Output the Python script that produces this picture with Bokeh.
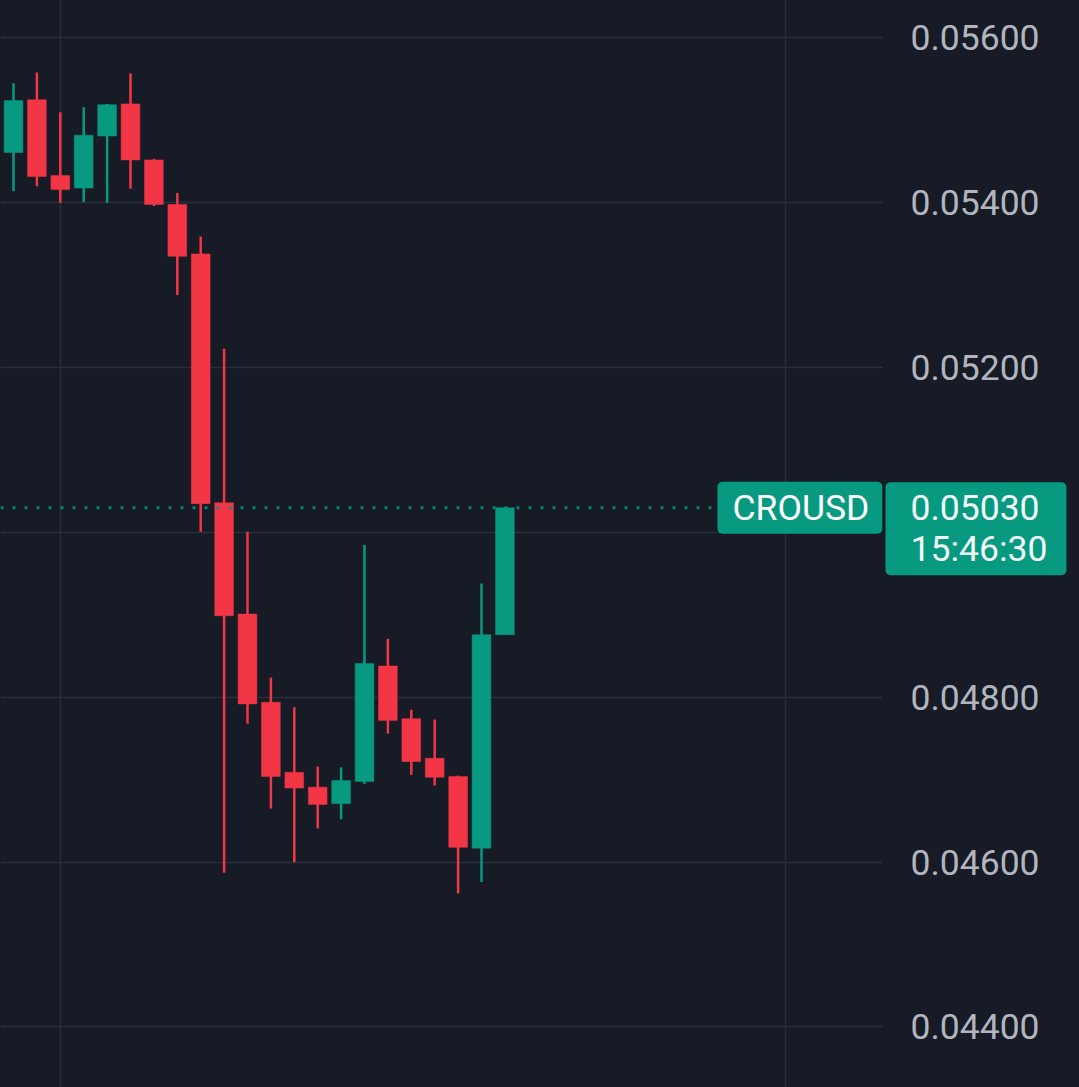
from bokeh.plotting import figure
from bokeh.models import (ColumnDataSource, Range1d, FixedTicker, Label,
                          PrintfTickFormatter)
from bokeh.embed import file_html
from bokeh.resources import INLINE

# ---- data (CROUSD candles) ----
opens  = [0.05461, 0.05525, 0.05433, 0.05418, 0.05481, 0.05520, 0.05452, 0.05398,
          0.05338, 0.05036, 0.04901, 0.04794, 0.04709, 0.04691, 0.04671, 0.04698,
          0.04838, 0.04774, 0.04726, 0.04704, 0.04617, 0.04876]
highs  = [0.05545, 0.05558, 0.05510, 0.05516, 0.05520, 0.05557, 0.05453, 0.05412,
          0.05359, 0.05223, 0.05001, 0.04824, 0.04788, 0.04716, 0.04715, 0.04985,
          0.04871, 0.04785, 0.04773, 0.04705, 0.04938, 0.05030]
lows   = [0.05414, 0.05420, 0.05400, 0.05401, 0.05400, 0.05417, 0.05396, 0.05288,
          0.05001, 0.04587, 0.04768, 0.04665, 0.04600, 0.04641, 0.04652, 0.04695,
          0.04756, 0.04706, 0.04693, 0.04562, 0.04576, 0.04876]
closes = [0.05524, 0.05432, 0.05416, 0.05482, 0.05519, 0.05452, 0.05398, 0.05335,
          0.05035, 0.04899, 0.04792, 0.04704, 0.04690, 0.04670, 0.04699, 0.04841,
          0.04772, 0.04722, 0.04703, 0.04618, 0.04876, 0.05030]
price_ticks = [0.044, 0.046, 0.048, 0.052, 0.054, 0.056]
grid_ticks = [0.044, 0.046, 0.048, 0.050, 0.052, 0.054, 0.056]
time_grid = [2, 33]
symbol = "CROUSD"
last_price = "0.05030"
countdown = "15:46:30"

BG = "#171b26"
GRID = "#2a2e39"
UP = "#089981"
DOWN = "#f23645"
TXT = "#b2b5be"
FONT = "Roboto"

X_START, X_END = -0.5556, 45.556   # visible bar-index window
AXIS_X = 37.137                    # bar index where the price scale begins

idx = list(range(len(opens)))
colors = [UP if c >= o else DOWN for o, c in zip(opens, closes)]
src = ColumnDataSource(dict(
    x=idx, open=opens, high=highs, low=lows, close=closes,
    top=[max(o, c) for o, c in zip(opens, closes)],
    bottom=[min(o, c) for o, c in zip(opens, closes)],
    color=colors,
))

p = figure(width=1079, height=1087, output_backend="svg", toolbar_location=None,
           x_axis_location=None, y_axis_location="right",
           x_range=Range1d(X_START, X_END), y_range=Range1d(0.0432658, 0.0564545),
           min_border_left=0, min_border_top=0, min_border_bottom=0,
           min_border_right=0)
p.background_fill_color = BG
p.border_fill_color = BG
p.outline_line_color = None

p.xgrid.ticker = FixedTicker(ticks=time_grid)
p.xgrid.grid_line_color = GRID
p.xgrid.grid_line_width = 1.5
p.ygrid.ticker = FixedTicker(ticks=grid_ticks)
p.ygrid.grid_line_color = GRID
p.ygrid.grid_line_width = 1.5
p.ygrid.cross_bounds = (X_START, AXIS_X)

ax = p.yaxis[0]
ax.fixed_location = AXIS_X
ax.ticker = FixedTicker(ticks=price_ticks)
ax.formatter = PrintfTickFormatter(format="%.5f")
ax.axis_line_color = None
ax.major_tick_line_color = None
ax.minor_tick_line_color = None
ax.major_tick_out = 0
ax.major_tick_in = 0
ax.major_label_standoff = 28
ax.major_label_text_font = FONT
ax.major_label_text_font_size = "35.5px"
ax.major_label_text_color = TXT

p.segment(x0="x", y0="high", x1="x", y1="low", source=src,
          line_color="color", line_width=2.5)
p.vbar(x="x", top="top", bottom="bottom", width=0.8, source=src,
       fill_color="color", line_color="color", line_width=0.5)

# dotted last-price line
p.line(x=[X_START, AXIS_X], y=[closes[-1], closes[-1]], line_color=UP,
       line_alpha=0.8, line_width=3, line_dash="3 9")

p.add_layout(Label(x=717, x_units="screen", y=closes[-1], text=symbol,
                   text_font=FONT, text_font_size="35.5px", text_color="#ffffff",
                   text_align="left", text_baseline="middle",
                   background_fill_color=UP, border_radius=5,
                   padding=dict(left=15, right=13, top=5, bottom=5)))
p.add_layout(Label(x=885, x_units="screen", y=closes[-1], y_offset=-21,
                   text=last_price + "\n" + countdown, text_line_height=0.98,
                   text_font=FONT, text_font_size="35.5px", text_color="#f2fbf8",
                   text_align="left", text_baseline="middle",
                   background_fill_color=UP, border_radius=5,
                   padding=dict(left=25, right=19, top=5, bottom=5)))

template = """{% block postamble %}<style>html, body { background-color: #171b26; }</style>{% endblock %}"""
open("out.html", "w").write(file_html(p, INLINE, template=template))
